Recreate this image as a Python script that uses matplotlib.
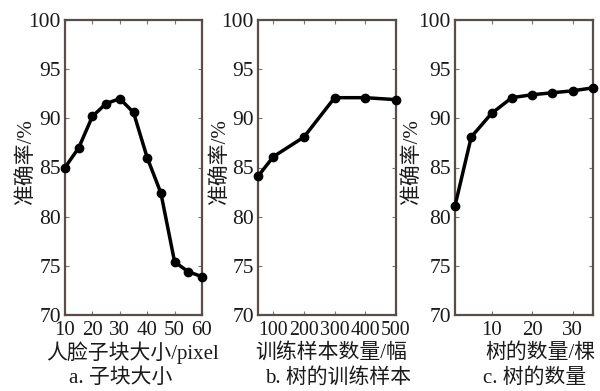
import matplotlib
matplotlib.use("Agg")
import matplotlib.pyplot as plt

plt.rcParams['font.family'] = ['Liberation Serif', 'Noto Sans CJK SC', 'DejaVu Sans']

# Panel a: face sub-block size
a_x = [10, 15, 20, 25, 30, 35, 40, 45, 50, 55, 60]
a_y = [85.0, 87.0, 90.2, 91.5, 92.0, 90.6, 86.0, 82.4, 75.4, 74.4, 73.9]
a_ticks = [10, 20, 30, 40, 50, 60]

# Panel b: number of training samples per tree
b_x = [50, 100, 200, 300, 400, 500]
b_y = [84.1, 86.1, 88.1, 92.1, 92.1, 91.9]
b_ticks = [100, 200, 300, 400, 500]

# Panel c: number of trees
c_x = [1, 5, 10, 15, 20, 25, 30, 35]
c_y = [81.1, 88.1, 90.5, 92.1, 92.4, 92.6, 92.8, 93.1]
c_ticks = [10, 20, 30]

y_ticks = [70, 75, 80, 85, 90, 95, 100]
ylabel = "准确率/%"
xlabels = ["人脸子块大小/pixel", "训练样本数量/幅", "树的数量/棵"]
captions = ["a. 子块大小", "b. 树的训练样本", "c. 树的数量"]

fig = plt.figure(figsize=(6.0, 3.91), dpi=100)
fig.patch.set_facecolor('white')

W, H = 600, 391
boxes = [(65, 202), (258, 396), (455, 593)]
top_px, bot_px = 20, 315
spine_col = '#5a4c48'
txt_col = '#1a1a1a'

panels = [
    (a_x, a_y, a_ticks, (10, 60), 15),
    (b_x, b_y, b_ticks, (50, 500), 14.3),
    (c_x, c_y, c_ticks, (1, 35), 15),
]
ylabel_x_px = [26, 220, 412]
ylabel_y_px = 161
xlabel_cx = [132, 331, 540]
caption_cx = [121, 338, 535]
xlabel_y_px = 353
caption_y_px = 378

for i, ((l, r), (xs, ys, xt, xl, xfs)) in enumerate(zip(boxes, panels)):
    ax = fig.add_axes([l / W, (H - bot_px) / H, (r - l) / W, (bot_px - top_px) / H])
    ax.plot(xs, ys, color='black', lw=2.5, marker='o', ms=6, zorder=3, clip_on=False)
    ax.set_xlim(*xl)
    ax.set_ylim(70, 100)
    ax.set_xticks(xt)
    ax.set_xticklabels([str(t) for t in xt])
    ax.set_yticks(y_ticks)
    ax.set_yticklabels([str(t) for t in y_ticks])
    ax.tick_params(direction='in', length=3, width=0.8, color='#777777',
                   top=True, right=True, labelcolor=txt_col)
    ax.tick_params(axis='x', labelsize=xfs, pad=4.5)
    ax.tick_params(axis='y', labelsize=15.5, pad=3)
    for s in ax.spines.values():
        s.set_color(spine_col)
        s.set_linewidth(1.6)
    ax.set_ylabel(ylabel, fontsize=15, color=txt_col)
    ax.yaxis.set_label_coords((ylabel_x_px[i] - l) / (r - l),
                              (bot_px - ylabel_y_px) / (bot_px - top_px))
    ax.yaxis.label.set_va('center')
    fig.text(xlabel_cx[i] / W, (H - xlabel_y_px) / H, xlabels[i], ha='center',
             va='center', fontsize=15, color=txt_col)
    fig.text(caption_cx[i] / W, (H - caption_y_px) / H, captions[i], ha='center',
             va='center', fontsize=15, color=txt_col)

fig.savefig('out.png', dpi=100, facecolor='white')
